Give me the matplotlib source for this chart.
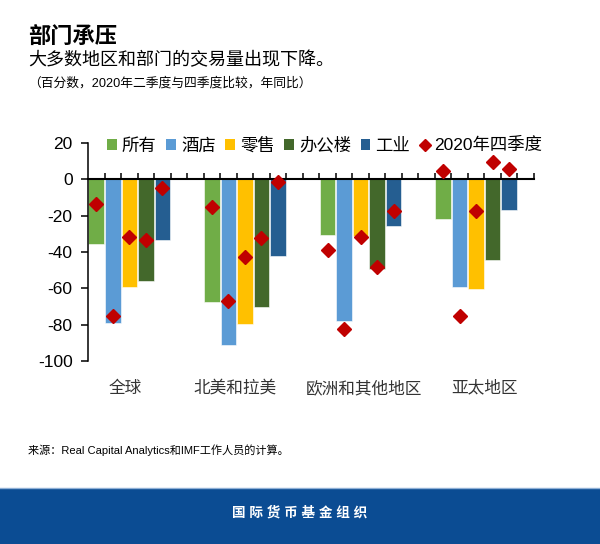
import numpy as np
import matplotlib
matplotlib.use("Agg")
import matplotlib.pyplot as plt
import matplotlib.transforms as mtransforms
from matplotlib.patches import Patch, Rectangle
from matplotlib.lines import Line2D

plt.rcParams['font.family'] = ['Liberation Sans', 'Noto Sans CJK SC', 'DejaVu Sans']

# DATA

regions = ['全球', '北美和拉美', '欧洲和其他地区', '亚太地区']
sectors = ['所有', '酒店', '零售', '办公楼', '工业']
q4_label = '2020年四季度'

# bars (per sector, one value per region)
all_q2 = [-35.5, -67.5, -30.5, -22]
hotel_q2 = [-79, -91, -78, -59.5]
retail_q2 = [-59.5, -79.5, -31, -60.5]
office_q2 = [-56, -70.5, -49.5, -44.5]
industry_q2 = [-33.5, -42, -25.5, -17]

# diamonds
all_q4 = [-13.5, -15, -39, 4.7]
hotel_q4 = [-75, -67, -82.5, -75]
retail_q4 = [-32, -42.5, -31.5, -17.5]
office_q4 = [-33.5, -32.5, -48, 9.3]
industry_q4 = [-5, -1.5, -17.5, 5.5]

yticks = [20, 0, -20, -40, -60, -80, -100]

bars = [all_q2, hotel_q2, retail_q2, office_q2, industry_q2]
dots = [all_q4, hotel_q4, retail_q4, office_q4, industry_q4]
colors = ['#70AD47', '#5B9BD5', '#FFC000', '#43682B', '#255E91']
red = '#C00000'

# LAYOUT: 7 slots per group (5 bars + 2 blank), last group has 1 blank
slots_per_group = 7
n_slots = slots_per_group * len(regions) - 1

fig = plt.figure(figsize=(6, 5.44), dpi=100)
ax = fig.add_axes([88/600, 1-361/544, (534-88)/600, (361-143)/544])

for s in range(len(sectors)):
    x = np.arange(len(regions)) * slots_per_group + s + 0.5
    ax.bar(x, bars[s], width=0.94, color=colors[s], edgecolor='white',
           linewidth=0.4, zorder=2)
    ax.plot(x, dots[s], linestyle='none', marker='D', markersize=6.8,
            color=red, zorder=4)

ax.set_xlim(0, n_slots)
ax.set_ylim(-100, 20)
ax.set_yticks(yticks)
ax.set_yticklabels([str(v) for v in yticks], fontsize=12.5)
ax.tick_params(axis='y', direction='out', length=5, width=1.1, pad=6)

ax.set_xticks(np.arange(1, n_slots + 1))
ax.tick_params(axis='x', direction='in', length=4.5, width=1.1,
               labelbottom=False)

ax.spines['top'].set_visible(False)
ax.spines['right'].set_visible(False)
ax.spines['bottom'].set_position(('data', 0))
ax.spines['bottom'].set_linewidth(1.5)
ax.spines['bottom'].set_zorder(3)
ax.spines['left'].set_linewidth(1.1)

# category labels under the chart
trans = mtransforms.blended_transform_factory(ax.transData, fig.transFigure)
label_shift = [-0.25, -0.6, 0.2, 0.5]
for g, name in enumerate(regions):
    xc = g * slots_per_group + 2.5 + label_shift[g]
    ax.text(xc, 1-388/544, name, transform=trans, ha='center', va='center',
            fontsize=12, color='#333333')

# LEGEND

handles = [Patch(facecolor=c, edgecolor='none') for c in colors]
handles.append(Line2D([], [], linestyle='none', marker='D', markersize=6.5,
                      color=red))
ax.legend(handles, sectors + [q4_label], ncol=6, loc='center',
          bbox_to_anchor=(0.531, 0.99), frameon=False, fontsize=12.5,
          handlelength=0.55, handleheight=0.55, handletextpad=0.3,
          columnspacing=0.55, borderpad=0, borderaxespad=0)

# TITLES

fig.text(28/600, 1-37.5/544, '部门承压', fontsize=16, fontweight='bold',
         ha='left', va='center')
fig.text(28/600, 1-60.5/544, '大多数地区和部门的交易量出现下降。', fontsize=13,
         ha='left', va='center')
fig.text(28/600, 1-83/544, '（百分数，2020年二季度与四季度比较，年同比）',
         fontsize=9.2, ha='left', va='center')

fig.text(28/600, 1-450/544, '来源：Real Capital Analytics和IMF工作人员的计算。',
         fontsize=8, ha='left', va='center')

# FOOTER BAND

fig.patches.append(Rectangle((0, 0), 1, 1-488/544, transform=fig.transFigure,
                             facecolor='#0B4C93', edgecolor='none'))
fig.lines.append(Line2D([0, 1], [1-488/544, 1-488/544],
                        transform=fig.transFigure, color='#8FB0D6', lw=1))
fig.text(0.5, 1-513/544, ' '.join('国际货币基金组织'), fontsize=9.8,
         fontweight='bold', color='white', ha='center', va='center')

fig.savefig('out.png', dpi=100)
